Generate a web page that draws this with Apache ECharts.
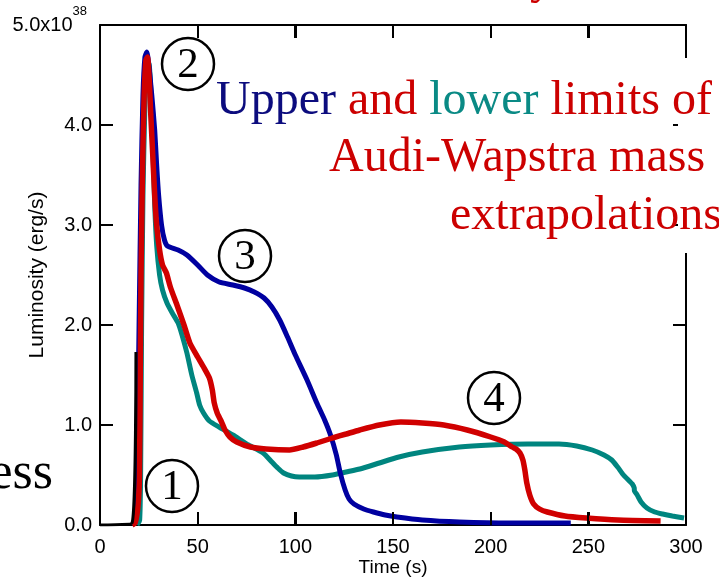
<!DOCTYPE html>
<html>
<head>
<meta charset="utf-8">
<script src="https://cdn.jsdelivr.net/npm/echarts@6/dist/echarts.min.js"></script>
<style>
  html, body { margin: 0; padding: 0; background: #fff; }
  #chart { width: 719px; height: 580px; }
</style>
</head>
<body>
<div id="chart"></div>
<script>
// 时间轴刻度 (s)
var timeTicks = [0, 50, 100, 150, 200, 250, 300];
var lumTicks = [0, 1, 2, 3, 4, 5];

// 上限 (蓝)
var upperLimit = [[16.5,0],[18,0.05],[19,0.6],[20,2.0],[21,3.4],[22,4.3],[23,4.68],[24,4.73],[25,4.6],[26.5,4.3],[28,3.95],[29,3.6],[30,3.3],[31.5,3.0],[33,2.85],[34.5,2.79],[40,2.75],[44.5,2.7],[50,2.6],[55,2.5],[61,2.43],[68,2.4],[74,2.37],[79,2.33],[84,2.27],[88,2.18],[92,2.05],[96,1.88],[100,1.7],[106,1.45],[111,1.22],[115,1.05],[118,0.9],[121,0.7],[123,0.52],[125.5,0.35],[127.5,0.26],[130,0.21],[135,0.16],[140,0.13],[146,0.1],[152,0.08],[165,0.05],[184,0.03],[210,0.02],[241,0.02]];

// 下限 (青)
var lowerLimit = [[19,0],[20.3,0.05],[20.8,0.5],[21.3,2.0],[22,3.3],[23,4.2],[24,4.6],[25,4.62],[26,4.35],[27,3.8],[28,3.2],[29,2.8],[30.5,2.5],[32,2.35],[34.3,2.22],[37,2.12],[40,2.02],[42,1.9],[44.5,1.72],[47,1.5],[49.5,1.32],[51,1.2],[53,1.12],[56,1.04],[61,0.98],[68,0.9],[76,0.8],[83.5,0.72],[88,0.63],[91,0.57],[94,0.52],[98,0.49],[102,0.48],[110,0.48],[119,0.5],[126,0.53],[133,0.56],[143,0.62],[153,0.68],[165,0.73],[184,0.78],[200,0.8],[219,0.81],[235,0.81],[244,0.79],[252,0.75],[258,0.7],[262,0.65],[265,0.58],[268,0.5],[271,0.44],[272.5,0.41],[273.5,0.37],[273.6,0.34],[275,0.3],[277,0.23],[280,0.17],[284,0.13],[288,0.11],[293,0.09],[299,0.07]];

// Audi-Wapstra 外推 (红)
var awExtrap = [[16.5,0],[18,0.02],[19.5,0.2],[20.2,0.5],[20.6,1.5],[21,2.5],[21.8,3.6],[22.6,4.3],[23.5,4.65],[24.3,4.68],[25.2,4.45],[26,4.1],[27,3.7],[28,3.3],[29,3.0],[30.5,2.75],[32,2.6],[34,2.52],[36,2.38],[39.4,2.2],[43,2.0],[46,1.82],[50,1.68],[53,1.58],[56,1.47],[57.5,1.35],[58.5,1.22],[60,1.12],[62,1.04],[64,0.95],[66.5,0.88],[70,0.83],[77,0.78],[85,0.76],[97,0.75],[104,0.78],[111,0.82],[119,0.87],[126,0.91],[133,0.95],[143,1.0],[154,1.03],[165,1.02],[176,1.0],[188,0.95],[200,0.88],[207,0.83],[211,0.78],[213,0.76],[215,0.72],[216.5,0.65],[217.5,0.55],[218.5,0.42],[220,0.3],[222,0.21],[225,0.16],[229,0.13],[238,0.09],[249,0.07],[265,0.05],[287,0.04]];

// 黑线 (起始上升)
var blackRise = [[0,0],[16.4,0.02],[18.4,1.73]];

var axisFont = 'Liberation Sans';
var serif = 'Liberation Serif';
var gridLeft = 100, gridRight = 33, gridTop = 25, gridBottom = 55;
var W = 719, H = 580;

var chart = echarts.init(document.getElementById('chart'));

function circled(cx, cy, num) {
    return [{
        type: 'circle', z: 50,
        shape: { cx: cx, cy: cy, r: 26 },
        style: { fill: 'none', stroke: '#000', lineWidth: 2.5 }
    }, {
        type: 'text', z: 51, x: cx, y: cy + 2,
        style: { text: num, fontFamily: serif, fontSize: 43, fill: '#000', align: 'center', verticalAlign: 'middle' }
    }];
}

// 上下时间轴的内向刻度 (细矩形)
var plotW = W - gridLeft - gridRight;
var yBottom = H - gridBottom;
var xTicks = [];
timeTicks.slice(1, -1).forEach(function (t) {
    var px = Math.round(gridLeft + t / timeTicks[timeTicks.length - 1] * plotW);
    xTicks.push({ type: 'rect', z: 30, shape: { x: px - 1, y: yBottom - 13, width: 2, height: 13 }, style: { fill: '#000' } });
    xTicks.push({ type: 'rect', z: 30, shape: { x: px - 1, y: gridTop, width: 2, height: 13 }, style: { fill: '#000' } });
});

var graphics = [
    // 遮住右侧轴线
    { type: 'rect', z: 40, shape: { x: 678, y: 58, width: 20, height: 195 }, style: { fill: '#fff' } },
    {
        type: 'text', z: 45, x: 216, y: 101,
        style: {
            text: '{b|Upper} {r|and} {t|lower} {r|limits of}',
            fontFamily: serif, fontSize: 48, fill: '#cc0000', verticalAlign: 'middle',
            rich: {
                b: { fontFamily: serif, fontSize: 48, fill: '#0c0c7e' },
                r: { fontFamily: serif, fontSize: 48, fill: '#cc0000' },
                t: { fontFamily: serif, fontSize: 48, fill: '#0a8a85' }
            }
        }
    },
    { type: 'text', z: 45, x: 329, y: 158, style: { text: 'Audi-Wapstra mass', fontFamily: serif, fontSize: 48, fill: '#cc0000', verticalAlign: 'middle' } },
    { type: 'text', z: 45, x: 450, y: 216, style: { text: 'extrapolations', fontFamily: serif, fontSize: 48, fill: '#cc0000', verticalAlign: 'middle' } },
    { type: 'text', z: 45, x: 53, y: 474, style: { text: 'ess', fontFamily: serif, fontSize: 52, fill: '#000', align: 'right', verticalAlign: 'middle' } },
    { type: 'text', z: 45, x: 530, y: -20, style: { text: 'y', fontFamily: serif, fontSize: 48, fill: '#cc0000', verticalAlign: 'middle' } }
].concat(xTicks, circled(188, 64, '2'), circled(245, 256, '3'), circled(494, 398, '4'), circled(172, 486, '1'));

function lineSerie(name, data, color, width) {
    return {
        name: name, type: 'line', data: data,
        showSymbol: false, smooth: 0.2,
        lineStyle: { color: color, width: width },
        itemStyle: { color: color }
    };
}

function tickStyle() {
    return { show: true, inside: true, length: 13, lineStyle: { color: '#000', width: 2 } };
}
function frameLine() {
    return { show: true, onZero: false, lineStyle: { color: '#000', width: 2 } };
}

option = {
    backgroundColor: '#fff',
    animation: false,
    grid: { left: gridLeft, right: gridRight, top: gridTop, bottom: gridBottom, outerBoundsMode: 'none' },
    xAxis: [{
        type: 'value', min: 0, max: 300, interval: 50,
        position: 'bottom',
        name: 'Time (s)', nameLocation: 'middle', nameGap: 33, nameMoveOverlap: false,
        nameTextStyle: { fontFamily: axisFont, fontSize: 19, color: '#000' },
        axisLine: frameLine(), axisTick: tickStyle(),
        axisLabel: { fontFamily: axisFont, fontSize: 20, color: '#000', margin: 12 },
        splitLine: { show: false }
    }, {
        type: 'value', min: 0, max: 300, interval: 50,
        position: 'top',
        axisLine: frameLine(), axisTick: tickStyle(),
        axisLabel: { show: false },
        splitLine: { show: false }
    }],
    yAxis: [{
        type: 'value', min: 0, max: 5, interval: 1,
        position: 'left',
        name: 'Luminosity (erg/s)', nameLocation: 'middle', nameGap: 52, nameMoveOverlap: false,
        nameTextStyle: { fontFamily: axisFont, fontSize: 21, color: '#000' },
        axisLine: frameLine(), axisTick: tickStyle(),
        axisLabel: {
            fontFamily: axisFont, fontSize: 20, color: '#000', margin: 8,
            formatter: function (v) {
                if (v === 5) return '{a|5.0x10}{s|38}';
                return v.toFixed(1);
            },
            rich: {
                a: { fontFamily: axisFont, fontSize: 20, color: '#000', lineHeight: 40 },
                s: { fontFamily: axisFont, fontSize: 13, color: '#000', verticalAlign: 'top', padding: [0, 5, 0, 0] }
            }
        },
        splitLine: { show: false }
    }, {
        type: 'value', min: 0, max: 5, interval: 1,
        position: 'right',
        axisLine: frameLine(), axisTick: tickStyle(),
        axisLabel: { show: false },
        splitLine: { show: false }
    }],
    graphic: graphics,
    series: [
        lineSerie('lower', lowerLimit, '#00857f', 5),
        lineSerie('upper', upperLimit, '#0000a0', 5),
        lineSerie('AW', awExtrap, '#d00000', 5.5),
        lineSerie('black', blackRise, '#000', 3)
    ]
};
chart.setOption(option);
</script>
</body>
</html>
